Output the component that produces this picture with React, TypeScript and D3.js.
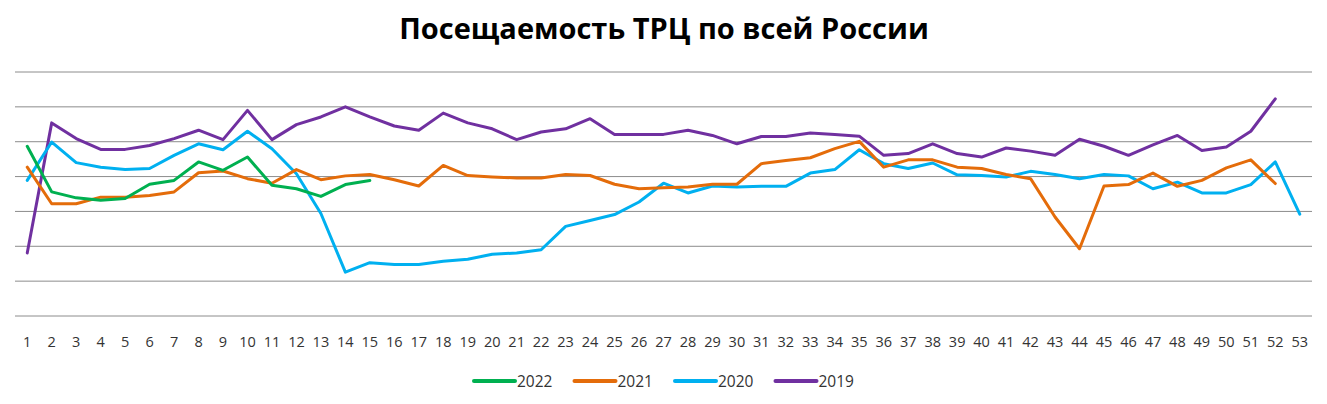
import React from "react";
import * as d3 from "d3";

const weeks: number[] = d3.range(1, 54);

const s2022: (number | null)[] = [4.87, 3.56, 3.39, 3.32, 3.37, 3.78, 3.89, 4.42, 4.18, 4.56, 3.75, 3.65, 3.43, 3.77, 3.89];

const s2021: (number | null)[] = [
  4.27, 3.22, 3.22, 3.41, 3.41, 3.46, 3.56, 4.11, 4.16, 3.94, 3.81, 4.2, 3.91, 4.02, 4.06, 3.91, 3.73, 4.32,
  4.03, 3.99, 3.96, 3.96, 4.06, 4.03, 3.78, 3.65, 3.68, 3.7, 3.78, 3.78, 4.37, 4.46, 4.54, 4.8, 5.01,
  4.27, 4.48, 4.48, 4.27, 4.23, 4.06, 3.94, 2.84, 1.93, 3.73, 3.77, 4.1, 3.72, 3.89, 4.25, 4.48, 3.8,
];

const s2020: (number | null)[] = [
  3.89, 4.99, 4.4, 4.27, 4.2, 4.23, 4.61, 4.94, 4.77, 5.3, 4.8, 4.08, 2.94, 1.26, 1.53, 1.48, 1.48, 1.57,
  1.63, 1.77, 1.81, 1.9, 2.57, 2.74, 2.91, 3.27, 3.81, 3.53, 3.73, 3.7, 3.72, 3.72, 4.1, 4.2, 4.77,
  4.37, 4.23, 4.39, 4.05, 4.03, 3.99, 4.15, 4.06, 3.94, 4.06, 4.02, 3.65, 3.84, 3.53, 3.53, 3.77, 4.42, 2.92,
];

const s2019: (number | null)[] = [
  1.81, 5.54, 5.09, 4.78, 4.78, 4.89, 5.09, 5.33, 5.06, 5.9, 5.06, 5.49, 5.71, 6.0, 5.71, 5.45, 5.33, 5.82,
  5.54, 5.37, 5.06, 5.28, 5.37, 5.66, 5.21, 5.21, 5.21, 5.33, 5.18, 4.94, 5.15, 5.15, 5.25, 5.21, 5.16,
  4.61, 4.66, 4.94, 4.66, 4.56, 4.82, 4.73, 4.61, 5.07, 4.87, 4.61, 4.91, 5.18, 4.75, 4.85, 5.3, 6.23,
];

const gridTicks: number[] = d3.range(0, 8);

const title = "Посещаемость ТРЦ по всей России";

const seriesNames = ["2022", "2021", "2020", "2019"];
const seriesColors = ["#00B050", "#E46C0A", "#00B0F0", "#7030A0"];
const seriesData = [s2022, s2021, s2020, s2019];

export default function App() {
  const W = 1327;
  const H = 404;
  const x = d3.scaleBand<number>().domain(weeks).range([15, 1312]);
  const y = d3.scaleLinear().domain([0, 7]).range([316, 72]);
  const cx = (w: number) => (x(w) as number) + x.bandwidth() / 2;

  const line = d3
    .line<number | null>()
    .defined((d) => d != null)
    .x((_, i) => cx(weeks[i]))
    .y((d) => y(d as number));

  const drawOrder = [3, 2, 1, 0];

  const legendX0 = 474;
  const legendStep = 100.5;
  const fontFam = "'Open Sans', 'Liberation Sans', sans-serif";

  return (
    <div style={{ position: "absolute", left: 0, top: 0 }}>
      <svg width={W} height={H} style={{ display: "block", background: "#fff" }}>
        <rect x={0} y={0} width={W} height={H} fill="#fff" />
        <text
          x={664}
          y={39}
          textAnchor="middle"
          fontFamily={fontFam}
          fontWeight="bold"
          fontSize={29}
          fill="#000"
        >
          {title}
        </text>
        {gridTicks.map((t) => (
          <line key={t} x1={15} x2={1312} y1={y(t)} y2={y(t)} stroke="#8c8c8c" strokeWidth={1} />
        ))}
        {weeks.map((w) => (
          <text
            key={w}
            x={cx(w)}
            y={347}
            textAnchor="middle"
            fontFamily={fontFam}
            fontSize={14.5}
            fill="#333"
          >
            {w}
          </text>
        ))}
        {drawOrder.map((k) => (
          <path
            key={seriesNames[k]}
            d={line(seriesData[k]) || ""}
            fill="none"
            stroke={seriesColors[k]}
            strokeWidth={3}
            strokeLinejoin="round"
            strokeLinecap="round"
          />
        ))}
        {seriesNames.map((n, i) => (
          <g key={n} transform={`translate(${legendX0 + i * legendStep},381)`}>
            <line x1={0} x2={41} y1={0} y2={0} stroke={seriesColors[i]} strokeWidth={4} strokeLinecap="round" />
            <text x={43} y={6} fontFamily={fontFam} fontSize={15.5} fill="#333">
              {n}
            </text>
          </g>
        ))}
      </svg>
    </div>
  );
}
